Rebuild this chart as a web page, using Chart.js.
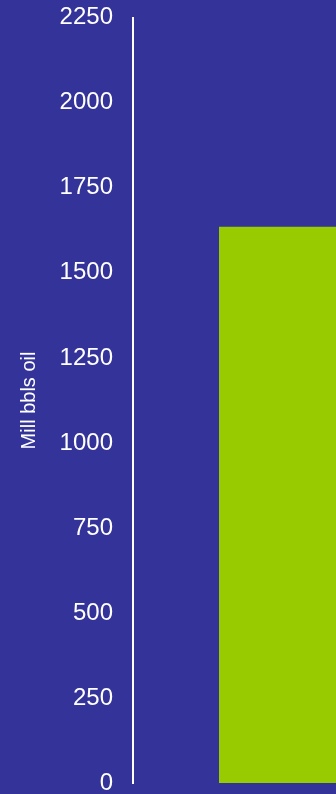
<!DOCTYPE html>
<html>
<head>
<meta charset="utf-8">
<script src="https://cdn.jsdelivr.net/npm/chart.js@4/dist/chart.umd.min.js"></script>
<style>
  html, body { margin: 0; padding: 0; background: #333399; overflow: hidden; }
  body { width: 336px; height: 794px; }
  .chartContainer { width: 563px; height: 794px; }
</style>
</head>
<body>
<div class="chartContainer">
  <canvas id="myChart"></canvas>
</div>
<script>
const categories = ["Oil"];
const reserves = [1635];
const yTicks = [0, 250, 500, 750, 1000, 1250, 1500, 1750, 2000, 2250];

const myChart = new Chart(document.getElementById("myChart"), {
  type: "bar",
  data: {
    labels: categories,
    datasets: [
      {
        label: "Mill bbls oil",
        data: reserves,
        backgroundColor: "#99cc00",
        borderWidth: 0,
        categoryPercentage: 1,
        barPercentage: 0.6,
      },
    ],
  },
  options: {
    responsive: true,
    maintainAspectRatio: false,
    animation: false,
    layout: { padding: { top: 17.5, bottom: 10.5, left: 0, right: 0 } },
    plugins: { legend: { display: false }, tooltip: { enabled: false } },
    scales: {
      x: { display: false },
      y: {
        min: 0,
        max: 2250,
        afterBuildTicks: (scale) => {
          scale.ticks = yTicks.map((v) => ({ value: v }));
        },
        afterFit: (scale) => {
          scale.width = 133;
        },
        border: { display: true, color: "#ffffff", width: 2 },
        grid: {
          drawOnChartArea: false,
          drawTicks: true,
          tickLength: 20,
          tickColor: "transparent",
        },
        ticks: {
          color: "#ffffff",
          padding: 0,
          callback: (value) => String(value),
          font: { family: "Liberation Sans, Arial, sans-serif", size: 24, lineHeight: 0.8 },
        },
        title: {
          display: true,
          text: "Mill bbls oil",
          color: "#ffffff",
          padding: { top: 17, bottom: 0 },
          font: { family: "Liberation Sans, Arial, sans-serif", size: 20, lineHeight: 1.2 },
        },
      },
    },
  },
});
</script>
</body>
</html>
